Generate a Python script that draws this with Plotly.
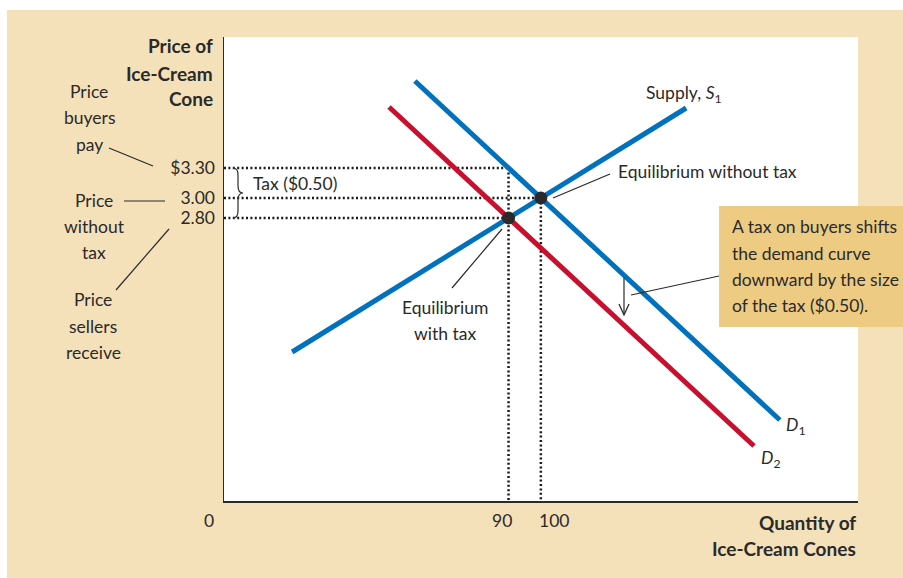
import plotly.graph_objects as go

# ---------------- data ----------------
supply_q = [23, 145]
supply_p = [1.46, 3.90]
d1_q = [61, 174]
d1_p = [4.17, 0.78]
d2_q = [53, 166]
d2_p = [3.91, 0.52]
eq_q = [100, 90]
eq_p = [3.00, 2.80]
price_buyers = 3.30
price_no_tax = 3.00
price_sellers = 2.80
q_no_tax = 100
q_tax = 90
y_tick_vals = [2.80, 3.00, 3.30]
y_tick_text = ["2.80", "3.00", "$3.30"]
x_tick_vals = [0, 90, 100]
x_tick_text = ["0", "90", "100"]

X_RANGE = [1.9, 198.2]
Y_RANGE = [-0.03, 4.61]

# ---------------- layout helpers ----------------
FW, FH = 903, 578
L, T, W, H = 224, 37, 634, 464


def px(x):
    return (x - L) / W


def py(y):
    return (T + H - y) / H


BLUE = "#0071BC"
RED = "#C8102E"
BEIGE = "#F5E1B9"
BOX = "#EECB82"
INK = "#2a2a2a"
FONT = "Lato"
FS = 17.5
FSB = 19

fig = go.Figure()

dot = dict(color="#1a1a1a", width=2.5, dash="2px,2.4px")
ymin = Y_RANGE[0]
xmin = X_RANGE[0]
# dotted guide lines
fig.add_trace(go.Scatter(x=[xmin, q_tax], y=[price_buyers, price_buyers], mode="lines", line=dot, hoverinfo="skip"))
fig.add_trace(go.Scatter(x=[xmin, q_no_tax], y=[price_no_tax, price_no_tax], mode="lines", line=dot, hoverinfo="skip"))
fig.add_trace(go.Scatter(x=[xmin, q_tax], y=[price_sellers, price_sellers], mode="lines", line=dot, hoverinfo="skip"))
fig.add_trace(go.Scatter(x=[q_tax, q_tax], y=[price_buyers, ymin], mode="lines", line=dot, hoverinfo="skip"))
fig.add_trace(go.Scatter(x=[q_no_tax, q_no_tax], y=[price_no_tax, ymin], mode="lines", line=dot, hoverinfo="skip"))

# curves
fig.add_trace(go.Scatter(x=supply_q, y=supply_p, mode="lines", line=dict(color=BLUE, width=5), name="Supply"))
fig.add_trace(go.Scatter(x=d2_q, y=d2_p, mode="lines", line=dict(color=RED, width=5), name="D2"))
fig.add_trace(go.Scatter(x=d1_q, y=d1_p, mode="lines", line=dict(color=BLUE, width=5), name="D1"))
fig.add_trace(go.Scatter(x=eq_q, y=eq_p, mode="markers", marker=dict(color=INK, size=13), name="Equilibrium"))

shapes = []
# white strips around beige page
shapes.append(dict(type="rect", xref="paper", yref="paper", x0=px(0), x1=px(FW), y0=py(10), y1=py(0),
                   fillcolor="white", line=dict(width=0), layer="below"))
shapes.append(dict(type="rect", xref="paper", yref="paper", x0=px(0), x1=px(7), y0=py(FH), y1=py(0),
                   fillcolor="white", line=dict(width=0), layer="below"))
# explanation box
shapes.append(dict(type="rect", xref="paper", yref="paper", x0=px(719), x1=px(FW + 2), y0=py(327), y1=py(206),
                   fillcolor=BOX, line=dict(width=0), layer="below"))

# leader lines + shift arrow
for (x0, y0, x1, y1) in [(109, 148, 153, 166), (124, 201, 165, 201), (116, 290, 169, 229),
                         (452, 288, 502, 229), (553, 198, 610, 174), (719, 276, 631, 295),
                         (624, 278, 624, 314)]:
    shapes.append(dict(type="line", xref="paper", yref="paper", x0=px(x0), y0=py(y0), x1=px(x1), y1=py(y1),
                       line=dict(color=INK, width=1.2)))
shapes.append(dict(type="path", xref="paper", yref="paper",
                   path=f"M {px(619)},{py(304)} L {px(624)},{py(315)} L {px(629)},{py(304)}",
                   line=dict(color=INK, width=1.3)))


# brace for the tax
def qx(p):
    return X_RANGE[0] + (p - L) / W * (X_RANGE[1] - X_RANGE[0])


def pyv(p):
    return Y_RANGE[1] - (p - T) / H * (Y_RANGE[1] - Y_RANGE[0])


pts = [(233, 168), (238, 168), (238, 175), (238, 186), (238, 193), (243, 193), (238, 193), (238, 200),
       (238, 211), (238, 218), (233, 218)]
P = [(qx(a), pyv(b)) for a, b in pts]
path = (f"M {P[0][0]},{P[0][1]} Q {P[1][0]},{P[1][1]} {P[2][0]},{P[2][1]} L {P[3][0]},{P[3][1]} "
        f"Q {P[4][0]},{P[4][1]} {P[5][0]},{P[5][1]} Q {P[6][0]},{P[6][1]} {P[7][0]},{P[7][1]} "
        f"L {P[8][0]},{P[8][1]} Q {P[9][0]},{P[9][1]} {P[10][0]},{P[10][1]}")
shapes.append(dict(type="path", xref="x", yref="y", path=path, line=dict(color=INK, width=1.2)))

ann = []


def label(text, x, y, anchor="center", bold=False):
    t = f"<b>{text}</b>" if bold else text
    ann.append(dict(text=t, xref="paper", yref="paper", x=px(x), y=py(y), xanchor=anchor, yanchor="middle",
                    showarrow=False, font=dict(family=FONT, size=FSB if bold else FS, color=INK)))


# axis titles
label("Price of", 215, 46, "right", True)
label("Ice-Cream", 215, 73, "right", True)
label("Cone", 215, 99, "right", True)
label("Quantity of", 858, 522, "right", True)
label("Ice-Cream Cones", 858, 548, "right", True)

# left side labels
for t, y in [("Price", 91), ("buyers", 118), ("pay", 144)]:
    label(t, 89, y)
for t, y in [("Price", 200), ("without", 226), ("tax", 252)]:
    label(t, 94, y)
for t, y in [("Price", 299), ("sellers", 326), ("receive", 352)]:
    label(t, 93, y)

# in-plot labels
label("Tax ($0.50)", 251, 183, "left")
label("Equilibrium", 445, 307)
label("with tax", 445, 333)
label("Equilibrium without tax", 616, 171, "left")
label("Supply, <i>S</i><sub>1</sub>", 644, 94, "left")
label("<i>D</i><sub>1</sub>", 784, 426, "left")
label("<i>D</i><sub>2</sub>", 759, 459, "left")
for t, y in [("A tax on buyers shifts", 226), ("the demand curve", 253), ("downward by the size", 279),
             ("of the tax ($0.50).", 305)]:
    label(t, 730, y, "left")

# x tick labels (offset like the original)
for v, t, shift in zip(x_tick_vals, x_tick_text, [0, -7, 13]):
    if v == 0:
        label(t, 209, 520)
    else:
        ann.append(dict(text=t, xref="x", yref="paper", x=v, y=py(520), xshift=shift, xanchor="center",
                        yanchor="middle", showarrow=False, font=dict(family=FONT, size=FS, color=INK)))

fig.update_layout(
    width=FW, height=FH,
    margin=dict(l=L, r=FW - L - W, t=T, b=FH - T - H),
    paper_bgcolor=BEIGE, plot_bgcolor="white",
    showlegend=False,
    shapes=shapes, annotations=ann,
    font=dict(family=FONT, size=FS, color=INK),
    xaxis=dict(range=X_RANGE, showgrid=False, zeroline=False, showline=True, linecolor=INK, linewidth=1.5,
               showticklabels=False, ticks="", fixedrange=True),
    yaxis=dict(range=Y_RANGE, showgrid=False, zeroline=False, showline=True, linecolor=INK, linewidth=1.5,
               tickvals=y_tick_vals, ticktext=y_tick_text, ticks="", ticklabelstandoff=4,
               tickfont=dict(family=FONT, size=FS, color=INK), fixedrange=True),
)

fig.write_html("out.html", post_script="document.body.style.margin='0';",
               config={"displayModeBar": False, "staticPlot": True})
